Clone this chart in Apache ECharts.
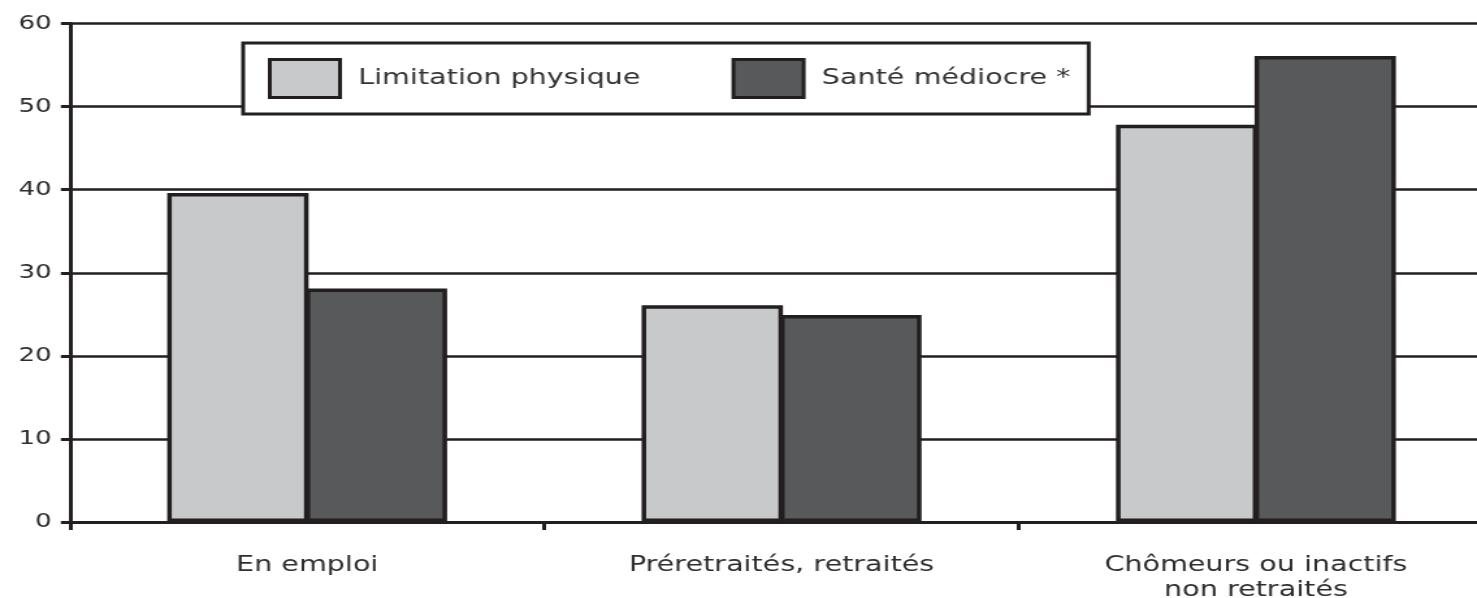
<!DOCTYPE html>
<html>
<head>
<meta charset="utf-8">
<script src="https://cdn.jsdelivr.net/npm/echarts@6/dist/echarts.min.js"></script>
<style>
  html, body { margin: 0; padding: 0; background: #fff; overflow: hidden; width: 1477px; height: 598px; }
  #wrap { position: relative; width: 1477px; height: 598px; overflow: hidden; }
  #chart { position: absolute; left: 0; top: 0; width: 1160px; height: 598px; transform: scaleX(1.30018); transform-origin: 0 0; }
</style>
</head>
<body>
<div id="wrap"><div id="chart"></div></div>
<script>
// Data
const categories = ['En emploi', 'Préretraités, retraités', 'Chômeurs ou inactifs\nnon retraités'];
const seriesNames = ['Limitation physique', 'Santé médiocre *'];
const limitationPhysique = [39.6, 26.1, 47.8];
const santeMediocre = [28.1, 24.9, 56.1];
const yTicks = [0, 10, 20, 30, 40, 50, 60];

const INK = '#231f20';
const LIGHT = '#c8c9cb';
const DARK = '#58595b';
const FONT = 'DejaVu Sans';

const chart = echarts.init(document.getElementById('chart'), null, { renderer: 'canvas' });
chart.setOption({
  animation: false,
  backgroundColor: '#ffffff',
  grid: { left: 53.8, top: 23.5, right: 11.6, bottom: 76, containLabel: false, outerBoundsMode: 'none' },
  legend: {
    data: seriesNames,
    left: 187,
    top: 43,
    orient: 'horizontal',
    icon: 'rect',
    itemWidth: 54,
    itemHeight: 38,
    itemGap: 70,
    padding: [15, 14, 15, 19],
    backgroundColor: '#ffffff',
    borderColor: INK,
    borderWidth: 3,
    borderRadius: 0,
    z: 10,
    itemStyle: { borderColor: INK, borderWidth: 3 },
    textStyle: { fontFamily: FONT, fontSize: 22, color: '#333', padding: [0, 0, 0, 9] }
  },
  xAxis: {
    type: 'category',
    data: categories,
    boundaryGap: true,
    axisLine: { show: true, lineStyle: { color: INK, width: 3 } },
    axisTick: { show: true, inside: false, length: 8, lineStyle: { color: INK, width: 3 } },
    axisLabel: { fontFamily: FONT, fontSize: 22, lineHeight: 25, color: '#2e2e2e', margin: 31, interval: 0 },
    splitLine: { show: false }
  },
  yAxis: {
    type: 'value',
    min: yTicks[0],
    max: yTicks[yTicks.length - 1],
    interval: 10,
    axisLine: { show: true, lineStyle: { color: INK, width: 3 } },
    axisTick: { show: true, inside: false, length: 7, lineStyle: { color: INK, width: 3 } },
    axisLabel: { fontFamily: FONT, fontSize: 20, color: '#2e2e2e', margin: 14 },
    splitLine: { show: true, lineStyle: { color: INK, width: 2.5 } }
  },
  series: [
    {
      name: seriesNames[0],
      type: 'bar',
      data: limitationPhysique,
      barGap: '-2%',
      barCategoryGap: '41%',
      itemStyle: { color: LIGHT, borderColor: INK, borderWidth: 3.5 }
    },
    {
      name: seriesNames[1],
      type: 'bar',
      data: santeMediocre,
      barGap: '-2%',
      barCategoryGap: '41%',
      itemStyle: { color: DARK, borderColor: INK, borderWidth: 3.5 }
    }
  ]
});
</script>
</body>
</html>
